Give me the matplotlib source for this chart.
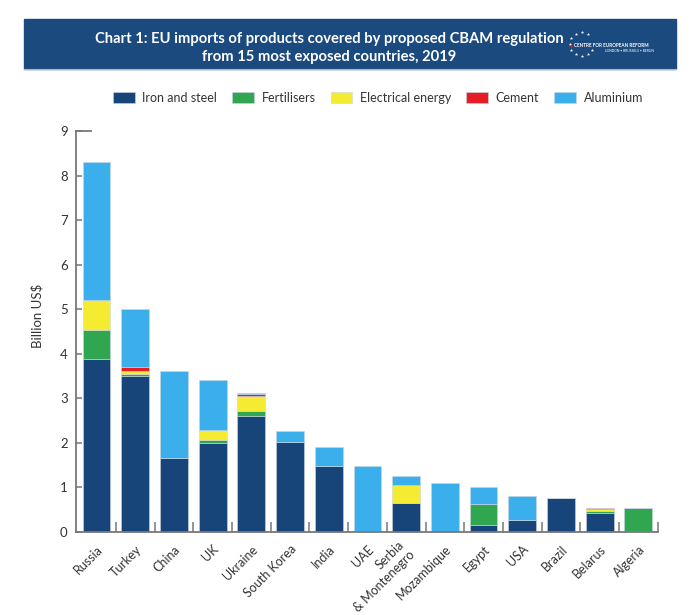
import numpy as np
import matplotlib
matplotlib.use("Agg")
import matplotlib.pyplot as plt
from matplotlib.patches import Rectangle
from matplotlib.lines import Line2D

plt.rcParams['font.family'] = ['Lato', 'DejaVu Sans']

countries = ['Russia', 'Turkey', 'China', 'UK', 'Ukraine', 'South Korea', 'India', 'UAE',
             'Serbia\n& Montenegro', 'Mozambique', 'Egypt', 'USA', 'Brazil', 'Belarus', 'Algeria']
iron = [3.88, 3.51, 1.67, 1.99, 2.61, 2.03, 1.49, 0.03, 0.64, 0.01, 0.15, 0.26, 0.76, 0.43, 0.02]
fertilisers = [0.65, 0.04, 0, 0.07, 0.11, 0, 0, 0, 0, 0, 0.48, 0, 0, 0.05, 0.51]
electrical = [0.67, 0.07, 0, 0.23, 0.34, 0, 0, 0, 0.42, 0, 0, 0, 0, 0.03, 0]
cement = [0, 0.09, 0, 0, 0.03, 0, 0, 0, 0, 0, 0, 0, 0, 0.02, 0.01]
aluminium = [3.10, 1.30, 1.95, 1.13, 0.04, 0.23, 0.42, 1.46, 0.19, 1.10, 0.38, 0.55, 0, 0.01, 0]

series = [('Iron and steel', iron, '#184579'),
          ('Fertilisers', fertilisers, '#30A650'),
          ('Electrical energy', electrical, '#F5EB30'),
          ('Cement', cement, '#E51E25'),
          ('Aluminium', aluminium, '#3BAEEC')]

fig = plt.figure(figsize=(7, 6.15), dpi=100)
ax = fig.add_axes([0.1086, 0.135, 0.831, 0.652])

x = np.arange(len(countries))
bottom = np.zeros(len(countries))
for name, vals, col in series:
    vals = np.array(vals)
    ax.bar(x, vals, width=0.72, bottom=bottom, color=col, label=name,
           edgecolor='#c9d6e3', linewidth=0.4)
    bottom += vals

ax.set_xlim(-0.53, 14.5)
ax.set_ylim(0, 9)
ax.set_yticks(range(10))
ax.tick_params(axis='y', direction='in', length=4, width=1.1, color='#777777',
               labelsize=9.5, labelcolor='#333333', pad=6)

# two-line label is centred on its bar, the others hang from the axis
ticklabels = [c if '\n' not in c else '' for c in countries]
ax.set_xticks(x)
ax.set_xticklabels(ticklabels, rotation=45, ha='right', rotation_mode='anchor',
                   fontsize=9, color='#333333')
for i, c in enumerate(countries):
    if '\n' in c:
        ax.annotate(c, xy=(i, 0), xycoords=('data', 'axes fraction'), xytext=(1, -11.5),
                    textcoords='offset points', rotation=45, ha='right', va='center',
                    rotation_mode='anchor', fontsize=9, color='#333333')
ax.tick_params(axis='x', which='major', length=0, pad=8)
ax.set_xticks(x + 0.5, minor=True)
ax.tick_params(axis='x', which='minor', direction='in', length=7.5, width=1.1, color='#777777')

for s in ['left', 'bottom']:
    ax.spines[s].set_color('#777777')
    ax.spines[s].set_linewidth(1.3)
ax.spines['right'].set_visible(False)
ax.spines['top'].set_color('#777777')
ax.spines['top'].set_linewidth(1.3)
ax.spines['top'].set_bounds(-0.53, -0.15)

ax.set_ylabel('Billion US$', fontsize=9.5, color='#333333')
ax.yaxis.set_label_coords(-0.056, 0.54)

# title banner
fig.patches.append(Rectangle((24 / 700, 1 - 68.5 / 615), 652 / 700, 49.5 / 615,
                             transform=fig.transFigure, color='#1B4A7F', zorder=0))
fig.lines.append(Line2D([24 / 700, 676 / 700], [1 - 69 / 615] * 2, transform=fig.transFigure,
                        color='#9fb9d6', linewidth=0.8))
fig.text(329 / 700, 1 - 39.5 / 615, 'Chart 1: EU imports of products covered by proposed CBAM regulation',
         ha='center', va='center', color='white', fontsize=10.6, fontweight='bold')
fig.text(329 / 700, 1 - 57.5 / 615, 'from 15 most exposed countries, 2019',
         ha='center', va='center', color='white', fontsize=10.6, fontweight='bold')

# logo: ring of stars
cx, cy, r = 581.5, 44, 12
angs = np.deg2rad([90, 60, 120, 150, 180, 210, 240, 270, 300, 330])
fig.lines.append(Line2D((cx + r * np.cos(angs)) / 700, 1 - (cy - r * np.sin(angs)) / 615,
                        transform=fig.transFigure, linestyle='none', marker='*',
                        markersize=2.5, color='white', markeredgewidth=0))
fig.lines.append(Line2D([571 / 700], [1 - 45.5 / 615], transform=fig.transFigure, linestyle='none',
                        marker='o', markersize=1.6, color='#E51E25', markeredgewidth=0))
fig.text(574 / 700, 1 - 45.5 / 615, 'CENTRE FOR EUROPEAN REFORM', color='white',
         fontsize=3.3, fontweight='bold', ha='left', va='center')
fig.text(654 / 700, 1 - 51.5 / 615, 'LONDON \u2022 BRUSSELS \u2022 BERLIN', color='white',
         fontsize=2.4, ha='right', va='center')

fig.legend(loc='center', bbox_to_anchor=(378 / 700, 1 - 97.7 / 615), ncol=5, frameon=False,
           fontsize=9, handlelength=1.75, handleheight=0.9, handletextpad=0.6,
           columnspacing=1.2, borderpad=0, labelcolor='#333333')

fig.savefig('out.png', dpi=100)
